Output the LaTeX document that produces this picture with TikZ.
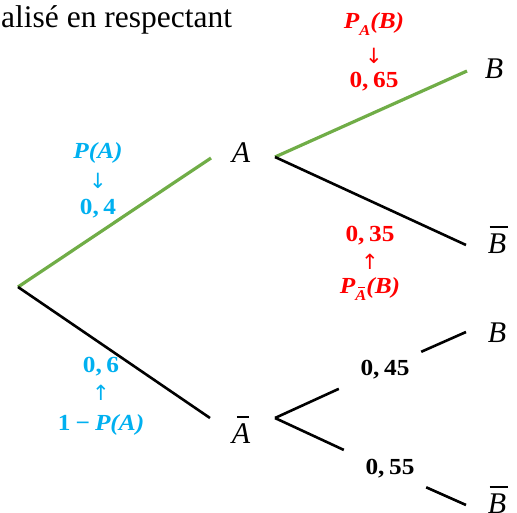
\documentclass[tikz,border=0pt]{standalone}
\usepackage{fontspec}
\setmainfont{Liberation Serif}
\newfontfamily\labf[FakeStretch=1.1]{Liberation Serif}
\newfontfamily\arrf{DejaVu Sans}
\definecolor{tgreen}{RGB}{112,173,71}
\definecolor{tblue}{RGB}{0,176,240}
\definecolor{tred}{RGB}{255,0,0}
% bar over a letter: #1 shift, #2 width, #3 letter
\newcommand{\obar}[3]{\ooalign{#3\cr\hidewidth\kern#1\rule[0.84em]{#2}{0.06em}\hidewidth\cr}}
\newcommand{\cm}{,\hspace{0.2em}}
\tikzset{
  x=1pt, y=-1pt,
  evt/.style={inner sep=0pt, anchor=base, font=\fontsize{30}{34}\selectfont\itshape},
  prob/.style={inner sep=0pt, font=\labf\fontsize{23}{27}\selectfont\bfseries},
  arr/.style={inner sep=0pt, font=\arrf\fontsize{21}{23}\selectfont},
  gbranch/.style={draw=tgreen, line width=3.2pt},
  kbranch/.style={draw=black, line width=2.6pt},
  gaplab/.style={prob, minimum width=82pt, minimum height=44pt}
}
\begin{document}
\begin{tikzpicture}
\useasboundingbox (0,0) rectangle (517,512);
% top text
\node[inner sep=0pt, anchor=base west, font=\fontsize{31.5}{36}\selectfont] (top) at (1,27) {alisé en respectant};
% end points of the branches
\coordinate (O) at (18,287);
\coordinate (Aw) at (211,158);
\coordinate (Ae) at (275,157);
\coordinate (B1w) at (467,71);
\coordinate (B2w) at (466,245);
\coordinate (Abw) at (210,418);
\coordinate (Abe) at (275,418);
\coordinate (B3w) at (466,332);
\coordinate (B4w) at (466,505);
% events
\node[evt] (A) at (241,162) {A};
\node[evt] (Ab) at (241,443) {\obar{0.14em}{0.42em}{A}};
\node[evt] (B1) at (494,78) {B};
\node[evt] (B2) at (497,253) {\obar{0.1em}{0.6em}{B}};
\node[evt] (B3) at (497,342) {B};
\node[evt] (B4) at (497,513) {\obar{0.1em}{0.6em}{B}};
% branches
\draw[gbranch] (O) -- (Aw);
\draw[gbranch] (Ae) -- (B1w);
\draw[kbranch] (Ae) -- (B2w);
\draw[kbranch] (O) -- (Abw);
\node[gaplab] (p45) at (380,370) {\hspace{10pt}\raisebox{0pt}{0\cm 45}};
\node[gaplab] (p55) at (385,469) {\hspace{10pt}\raisebox{-3pt}{0\cm 55}};
\draw[kbranch] (Abe) -- (p45) -- (B3w);
\draw[kbranch] (Abe) -- (p55) -- (B4w);
% blue labels
\node[prob, text=tblue] (lPA) at (98,153) {\itshape P(A)};
\node[arr, text=tblue] (a1) at (98,181) {↓};
\node[prob, text=tblue] (l04) at (98,209) {0\cm 4};
\node[prob, text=tblue] (l06) at (101,367) {0\cm 6};
\node[arr, text=tblue] (a2) at (101,393) {↑};
\node[prob, text=tblue] (l1PA) at (101,425) {1\hspace{0.22em}−\hspace{0.22em}\itshape P(A)};
% red labels
\node[prob, text=tred] (lPAB) at (374,24) {\itshape P\raisebox{-0.3em}{\fontsize{15}{15}\selectfont A}(B)};
\node[arr, text=tred] (a3) at (374,56) {↓};
\node[prob, text=tred] (l065) at (374,82) {0\cm 65};
\node[prob, text=tred] (l035) at (370,236) {0\cm 35};
\node[arr, text=tred] (a4) at (370,262) {↑};
\node[prob, text=tred] (lPAbB) at (370,289) {\itshape P\raisebox{-0.3em}{\fontsize{15}{15}\selectfont\obar{0.1em}{0.42em}{A}}(B)};
\end{tikzpicture}
\end{document}
